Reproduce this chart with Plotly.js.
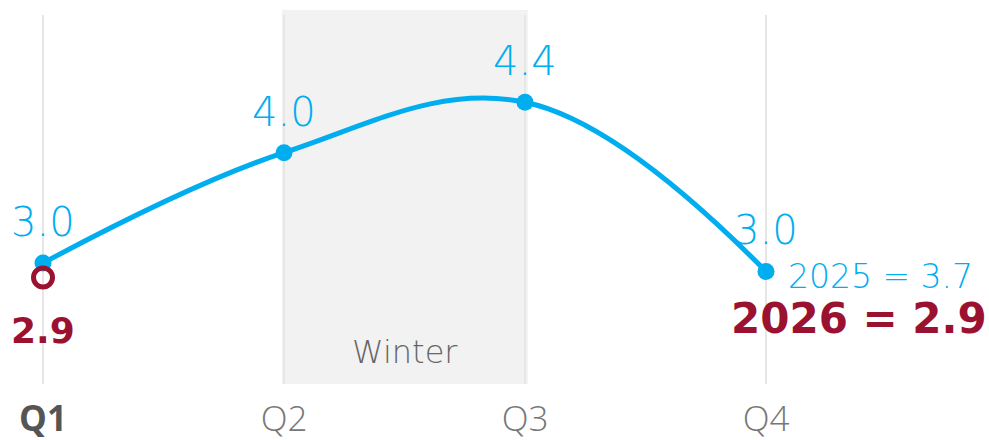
<!DOCTYPE html>
<html><head><meta charset="utf-8">
<script src="https://cdn.plot.ly/plotly-3.0.1.min.js"></script>
<style>html,body{margin:0;padding:0;background:#fff}#chart{width:989px;height:440px}</style>
</head><body><div id="chart"></div>
<script>
const quarters = ['Q1','Q2','Q3','Q4'];
const values2025 = [3.04, 3.96, 4.38, 2.97];
const labels2025 = ['3.0','4.0','4.4','3.0'];
const value2026 = 2.92;
const label2026 = '2.9';
const avg2025 = '3.7';
const avg2026 = '2.9';
const shadedLabel = 'Winter';
const shadedFrom = 'Q2', shadedTo = 'Q3';

const BLUE = '#00aeef', RED = '#9b1230';
const LIGHT = 'DejaVu Sans, Open Sans, sans-serif';
const TICK = 'Open Sans, Noto Sans, sans-serif';
const xs = quarters.map((q,i)=>i);
const i0 = quarters.indexOf(shadedFrom), i1 = quarters.indexOf(shadedTo);

const traces = [
  {x: xs, y: values2025, type:'scatter', mode:'lines+markers',
   line:{color:BLUE, width:5, shape:'spline', smoothing:1.1},
   marker:{color:BLUE, size:17},
   cliponaxis:false, hoverinfo:'skip'},
  {x:[0], y:[value2026], type:'scatter', mode:'markers',
   marker:{color:RED, size:19, symbol:'circle-open', line:{color:RED, width:5}},
   cliponaxis:false, hoverinfo:'skip'}
];

const shapes = [{type:'rect', xref:'x', yref:'paper', x0:i0-0.008, x1:i1+0.012, y0:0, y1:1.0136,
    fillcolor:'#f2f2f2', line:{width:0}, layer:'below'}];
xs.forEach(x => shapes.push({type:'line', xref:'x', yref:'paper', x0:x, x1:x, y0:0, y1:1,
    line:{color:'#e6e6e6', width:2}, layer:'below'}));

const annotations = labels2025.map((t,i)=>({x:xs[i], y:values2025[i], xref:'x', yref:'y',
    text:t, showarrow:false, yshift:41, font:{family:LIGHT, size:40, color:BLUE, weight:200}}));
annotations.push(
    {x:0, y:value2026, xref:'x', yref:'y', text:'<b>'+label2026+'</b>', showarrow:false,
     yshift:-53, font:{family:LIGHT, size:36, color:RED}},
    {x:(i0+i1)/2, y:0.087, xref:'x', yref:'paper', yanchor:'middle', text:shadedLabel, showarrow:false,
     font:{family:LIGHT, size:32, color:'#666', weight:200}},
    {x:3, y:values2025[3], xref:'x', yref:'y', xanchor:'left', xshift:20, yshift:-5,
     text:'2025 = '+avg2025, showarrow:false, font:{family:LIGHT, size:33, color:BLUE, weight:200}},
    {x:3, y:values2025[3], xref:'x', yref:'y', xanchor:'left', xshift:-37, yshift:-47,
     text:'<b>2026 = '+avg2026+'</b>', showarrow:false, font:{family:LIGHT, size:42, color:RED}}
);

const layout = {
  width:989, height:440, showlegend:false,
  margin:{l:0, r:0, t:15, b:56},
  paper_bgcolor:'#fff', plot_bgcolor:'#fff',
  xaxis:{range:[-43/241, 3+223/241], tickvals:xs,
    ticktext: quarters.map((q,i)=> i===0 ? '<b><span style="color:#555">'+q+'</span></b>' : q),
    tickfont:{family:TICK, size:35, color:'#777', weight:300},
    showgrid:false, zeroline:false, showline:false,
    ticks:'', ticklabelstandoff:11, fixedrange:true},
  yaxis:{range:[2.032,5.107], visible:false, fixedrange:true},
  shapes: shapes,
  annotations: annotations
};
Plotly.newPlot('chart', traces, layout, {displayModeBar:false, staticPlot:true});
</script></body></html>
